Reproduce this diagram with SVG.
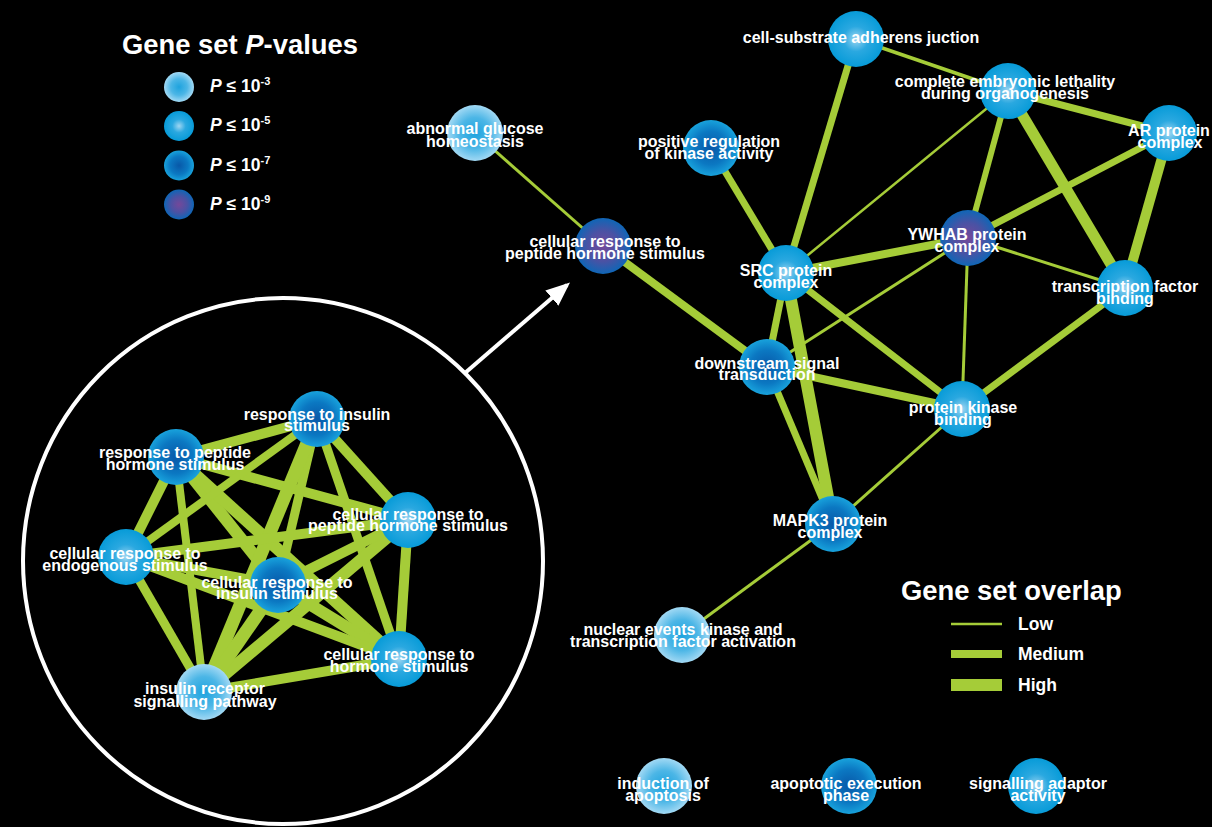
<svg xmlns="http://www.w3.org/2000/svg" width="1212" height="827" viewBox="0 0 1212 827">
<defs>
<radialGradient id="gA" cx="50%" cy="50%" r="50%">
<stop offset="0" stop-color="#1ea3de"/>
<stop offset="0.55" stop-color="#4cb6e6"/>
<stop offset="1" stop-color="#a2d9f4"/>
</radialGradient>
<radialGradient id="gB" cx="50%" cy="50%" r="50%">
<stop offset="0" stop-color="#9ed6f2"/>
<stop offset="0.45" stop-color="#2aa8e0"/>
<stop offset="1" stop-color="#079bd8"/>
</radialGradient>
<radialGradient id="gC" cx="50%" cy="50%" r="50%">
<stop offset="0" stop-color="#0858a8"/>
<stop offset="0.6" stop-color="#0b78c2"/>
<stop offset="1" stop-color="#18a2dc"/>
</radialGradient>
<radialGradient id="gD" cx="50%" cy="50%" r="50%">
<stop offset="0" stop-color="#74489a"/>
<stop offset="0.55" stop-color="#4a52a4"/>
<stop offset="1" stop-color="#0f66b6"/>
</radialGradient>
<marker id="ah" markerWidth="6" markerHeight="5" refX="5" refY="2.5" orient="auto" markerUnits="strokeWidth">
<path d="M0,0 L6,2.5 L0,5 Z" fill="#fff"/>
</marker>
<style>
.t{font-family:"Liberation Sans",Arial,sans-serif;font-weight:bold;font-size:16px;fill:#fff;text-anchor:middle}
.h{font-family:"Liberation Sans",Arial,sans-serif;font-weight:bold;font-size:27.4px;fill:#fff}
.l{font-family:"Liberation Sans",Arial,sans-serif;font-weight:bold;font-size:17.5px;fill:#fff}
.e{stroke:#a5cc38;stroke-linecap:butt;fill:none}
.A{fill:url(#gA)}.B{fill:url(#gB)}.C{fill:url(#gC)}.D{fill:url(#gD)}
</style>
</defs>
<rect x="0" y="0" width="1212" height="827" fill="#000"/>

<g id="legend-pvalues">
<text class="h" x="122" y="54">Gene set <tspan font-style="italic">P</tspan>-values</text>
<circle class="A" cx="179" cy="87" r="15"/>
<circle class="B" cx="179" cy="126" r="15"/>
<circle class="C" cx="179" cy="165.5" r="15"/>
<circle class="D" cx="179" cy="204.5" r="15"/>
<text class="l" x="210" y="92"><tspan font-style="italic">P</tspan> ≤ 10<tspan dy="-7" font-size="11">-3</tspan></text>
<text class="l" x="210" y="131"><tspan font-style="italic">P</tspan> ≤ 10<tspan dy="-7" font-size="11">-5</tspan></text>
<text class="l" x="210" y="170.5"><tspan font-style="italic">P</tspan> ≤ 10<tspan dy="-7" font-size="11">-7</tspan></text>
<text class="l" x="210" y="209.5"><tspan font-style="italic">P</tspan> ≤ 10<tspan dy="-7" font-size="11">-9</tspan></text>
</g>

<g id="legend-overlap">
<text class="h" x="901" y="599.5">Gene set overlap</text>
<line class="e" x1="951" y1="624" x2="1002" y2="624" stroke-width="2.5"/>
<line class="e" x1="951" y1="654" x2="1002" y2="654" stroke-width="8"/>
<line class="e" x1="951" y1="685" x2="1002" y2="685" stroke-width="12"/>
<text class="l" x="1018" y="630">Low</text>
<text class="l" x="1018" y="659.5">Medium</text>
<text class="l" x="1018" y="690.5">High</text>
</g>

<g id="inset">
<ellipse cx="283" cy="561" rx="260" ry="263" fill="none" stroke="#fff" stroke-width="4"/>
<line x1="465" y1="373" x2="567" y2="285" stroke="#fff" stroke-width="4" marker-end="url(#ah)"/>
</g>

<g id="connectors">
<line class="e" x1="475" y1="133" x2="603" y2="246" stroke-width="3"/>
<line class="e" x1="603" y1="246" x2="767" y2="367" stroke-width="8"/>
<line class="e" x1="711" y1="148" x2="786" y2="273" stroke-width="7"/>
<line class="e" x1="856" y1="39" x2="786" y2="273" stroke-width="7"/>
<line class="e" x1="856" y1="39" x2="1008" y2="91" stroke-width="3.5"/>
<line class="e" x1="1008" y1="91" x2="786" y2="273" stroke-width="2.5"/>
<line class="e" x1="1008" y1="91" x2="1169" y2="133" stroke-width="7"/>
<line class="e" x1="1008" y1="91" x2="968" y2="238" stroke-width="6"/>
<line class="e" x1="1008" y1="91" x2="1125" y2="288" stroke-width="11"/>
<line class="e" x1="1169" y1="133" x2="968" y2="238" stroke-width="7"/>
<line class="e" x1="1169" y1="133" x2="1125" y2="288" stroke-width="10"/>
<line class="e" x1="968" y1="238" x2="786" y2="273" stroke-width="8"/>
<line class="e" x1="968" y1="238" x2="1125" y2="288" stroke-width="3"/>
<line class="e" x1="968" y1="238" x2="767" y2="367" stroke-width="3"/>
<line class="e" x1="968" y1="238" x2="962" y2="409" stroke-width="3"/>
<line class="e" x1="1125" y1="288" x2="962" y2="409" stroke-width="7"/>
<line class="e" x1="786" y1="273" x2="767" y2="367" stroke-width="7"/>
<line class="e" x1="786" y1="273" x2="962" y2="409" stroke-width="7"/>
<line class="e" x1="786" y1="273" x2="833" y2="524" stroke-width="12"/>
<line class="e" x1="767" y1="367" x2="962" y2="409" stroke-width="8"/>
<line class="e" x1="767" y1="367" x2="833" y2="524" stroke-width="7"/>
<line class="e" x1="962" y1="409" x2="833" y2="524" stroke-width="3"/>
<line class="e" x1="833" y1="524" x2="682" y2="635" stroke-width="3"/>

<line class="e" x1="176" y1="457" x2="317" y2="419" stroke-width="10"/>
<line class="e" x1="176" y1="457" x2="408" y2="520" stroke-width="10"/>
<line class="e" x1="176" y1="457" x2="126" y2="557" stroke-width="10"/>
<line class="e" x1="176" y1="457" x2="278" y2="585" stroke-width="12"/>
<line class="e" x1="176" y1="457" x2="399" y2="659" stroke-width="12"/>
<line class="e" x1="176" y1="457" x2="204" y2="692" stroke-width="8"/>
<line class="e" x1="317" y1="419" x2="408" y2="520" stroke-width="10"/>
<line class="e" x1="317" y1="419" x2="278" y2="585" stroke-width="9"/>
<line class="e" x1="317" y1="419" x2="399" y2="659" stroke-width="9"/>
<line class="e" x1="317" y1="419" x2="204" y2="692" stroke-width="13"/>
<line class="e" x1="317" y1="419" x2="126" y2="557" stroke-width="8"/>
<line class="e" x1="408" y1="520" x2="399" y2="659" stroke-width="10"/>
<line class="e" x1="408" y1="520" x2="204" y2="692" stroke-width="12"/>
<line class="e" x1="408" y1="520" x2="278" y2="585" stroke-width="10"/>
<line class="e" x1="408" y1="520" x2="126" y2="557" stroke-width="10"/>
<line class="e" x1="399" y1="659" x2="204" y2="692" stroke-width="10"/>
<line class="e" x1="399" y1="659" x2="278" y2="585" stroke-width="12"/>
<line class="e" x1="399" y1="659" x2="126" y2="557" stroke-width="10"/>
<line class="e" x1="204" y1="692" x2="278" y2="585" stroke-width="13"/>
<line class="e" x1="204" y1="692" x2="126" y2="557" stroke-width="9"/>
<line class="e" x1="126" y1="557" x2="278" y2="585" stroke-width="10"/>
</g>

<g id="n_csa"><circle class="B" cx="856" cy="39" r="28"/><text class="t" x="861" y="43">cell-substrate adherens juction</text></g>
<g id="n_cel"><circle class="B" cx="1008" cy="91" r="28"/><text class="t"><tspan x="1005" y="87">complete embryonic lethality</tspan><tspan x="1005" y="99">during organogenesis</tspan></text></g>
<g id="n_ar"><circle class="B" cx="1169" cy="133" r="28"/><text class="t"><tspan x="1169" y="136">AR protein</tspan><tspan x="1170" y="147.5">complex</tspan></text></g>
<g id="n_ag"><circle class="A" cx="475" cy="133" r="28"/><text class="t"><tspan x="475" y="134">abnormal glucose</tspan><tspan x="475" y="146.5">homeostasis</tspan></text></g>
<g id="n_prk"><circle class="C" cx="711" cy="148" r="28"/><text class="t"><tspan x="709" y="147">positive regulation</tspan><tspan x="709" y="159">of kinase activity</tspan></text></g>
<g id="n_crp"><circle class="D" cx="603" cy="246" r="28"/><text class="t"><tspan x="605" y="247">cellular response to</tspan><tspan x="605" y="258.5">peptide hormone stimulus</tspan></text></g>
<g id="n_yw"><circle class="D" cx="968" cy="238" r="28"/><text class="t"><tspan x="967" y="240">YWHAB protein</tspan><tspan x="967" y="252">complex</tspan></text></g>
<g id="n_src"><circle class="B" cx="786" cy="273" r="28"/><text class="t"><tspan x="786" y="276">SRC protein</tspan><tspan x="786" y="287.5">complex</tspan></text></g>
<g id="n_tfb"><circle class="B" cx="1125" cy="288" r="28"/><text class="t"><tspan x="1125" y="292">transcription factor</tspan><tspan x="1125" y="303.5">binding</tspan></text></g>
<g id="n_dst"><circle class="C" cx="767" cy="367" r="28"/><text class="t"><tspan x="767" y="368.5">downstream signal</tspan><tspan x="767" y="380">transduction</tspan></text></g>
<g id="n_pkb"><circle class="B" cx="962" cy="409" r="28"/><text class="t"><tspan x="963" y="413">protein kinase</tspan><tspan x="963" y="424.5">binding</tspan></text></g>
<g id="n_mapk"><circle class="C" cx="833" cy="524" r="28"/><text class="t"><tspan x="830" y="526">MAPK3 protein</tspan><tspan x="830" y="537.5">complex</tspan></text></g>
<g id="n_ne"><circle class="A" cx="682" cy="635" r="28"/><text class="t"><tspan x="683" y="635">nuclear events kinase and</tspan><tspan x="683" y="646.5">transcription factor activation</tspan></text></g>
<g id="n_ia"><circle class="A" cx="664" cy="786" r="28"/><text class="t"><tspan x="663" y="788.5">induction of</tspan><tspan x="663" y="800.5">apoptosis</tspan></text></g>
<g id="n_aep"><circle class="C" cx="849" cy="786" r="28"/><text class="t"><tspan x="846" y="788.5">apoptotic execution</tspan><tspan x="846" y="800.5">phase</tspan></text></g>
<g id="n_saa"><circle class="B" cx="1036" cy="786" r="28"/><text class="t"><tspan x="1038" y="788.5">signalling adaptor</tspan><tspan x="1038" y="800.5">activity</tspan></text></g>

<g id="i_ins"><circle class="C" cx="317" cy="419" r="28"/><text class="t"><tspan x="317" y="419.5">response to insulin</tspan><tspan x="317" y="431">stimulus</tspan></text></g>
<g id="i_pep"><circle class="C" cx="176" cy="457" r="28"/><text class="t"><tspan x="175" y="457.5">response to peptide</tspan><tspan x="175" y="469.5">hormone stimulus</tspan></text></g>
<g id="i_cprp"><circle class="B" cx="408" cy="520" r="28"/><text class="t"><tspan x="408" y="519.5">cellular response to</tspan><tspan x="408" y="531">peptide hormone stimulus</tspan></text></g>
<g id="i_endo"><circle class="B" cx="126" cy="557" r="28"/><text class="t"><tspan x="125" y="558.5">cellular response to</tspan><tspan x="125" y="570.5">endogenous stimulus</tspan></text></g>
<g id="i_cis"><circle class="C" cx="278" cy="585" r="28"/><text class="t"><tspan x="277" y="587.5">cellular response to</tspan><tspan x="277" y="599">insulin stimulus</tspan></text></g>
<g id="i_crh"><circle class="B" cx="399" cy="659" r="28"/><text class="t"><tspan x="399" y="660">cellular response to</tspan><tspan x="399" y="672">hormone stimulus</tspan></text></g>
<g id="i_irsp"><circle class="A" cx="204" cy="692" r="28"/><text class="t"><tspan x="205" y="694">insulin receptor</tspan><tspan x="205" y="706.5">signalling pathway</tspan></text></g>
</svg>
